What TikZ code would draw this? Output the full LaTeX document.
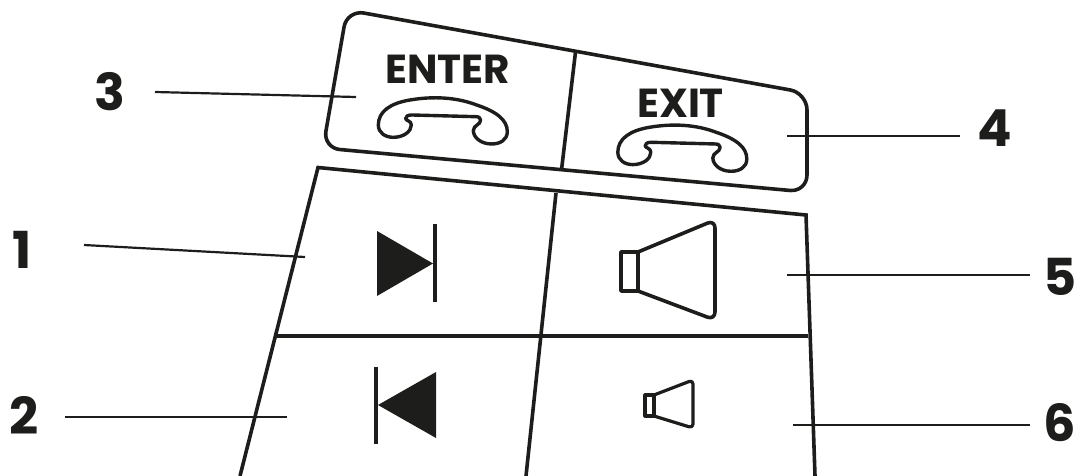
\documentclass[tikz,border=0pt]{standalone}
\usepackage{fontspec}
\setmainfont{Poppins}[BoldFont={* Bold}]
\definecolor{ink}{HTML}{1D1D1B}
\tikzset{
  x=1pt,y=-1pt,
  panel/.style={draw=ink,line width=3.6pt,line join=round},
  gridline/.style={draw=ink,line width=3.6pt},
  leader/.style={draw=ink,line width=2.2pt},
  num/.style={text=ink,font=\fontsize{51}{51}\selectfont\bfseries,inner sep=0pt,anchor=center},
  captext/.style={text=ink,font=\fontsize{40.5}{40.5}\selectfont\bfseries,inner sep=0pt,anchor=center},
  fillglyph/.style={fill=ink,draw=none},
  glyphline/.style={draw=ink,line width=3.2pt},
}
\newcommand{\handset}[2]{%
  \draw[panel,line width=3.4pt,shift={(#1,#2)},x=0.3333pt,y=-0.3333pt,line join=round]
    (205,375) .. controls (205,335) and (240,310) .. (300,300)
    .. controls (370,288) and (440,292) .. (500,315)
    .. controls (560,335) and (592,360) .. (592,395)
    .. controls (592,420) and (570,432) .. (545,432)
    .. controls (510,432) and (490,410) .. (490,392)
    .. controls (490,375) and (512,375) .. (512,360)
    .. controls (512,352) and (505,350) .. (495,350)
    -- (305,345)
    .. controls (292,345) and (287,350) .. (287,356)
    .. controls (287,362) and (304,362) .. (304,375)
    .. controls (304,395) and (280,412) .. (250,412)
    .. controls (225,412) and (205,398) .. (205,375) -- cycle;
}
\begin{document}
\begin{tikzpicture}
\useasboundingbox (0,0) rectangle (1078,476);
% upper panel
\draw[panel,rounded corners=17pt] (347,10) -- (807,93) -- (807,192) -- (323,148) -- cycle;
\coordinate (dt) at (575.5,52);
\coordinate (db) at (561.5,170);
\draw[gridline] (dt) -- (db);
\node[captext] (enter) at (447.5,69) {ENTER};
\node[captext] (exit) at (680.5,103) {EXIT};
\handset{310}{0}
\handset{549.5}{27.3}
% lower panel
\coordinate (ltl) at (318,167.5);
\coordinate (ltr) at (806,215);
\coordinate (lbl) at (240,476);
\coordinate (lbr) at (815,476);
\draw[panel,line join=miter] (lbl) -- (ltl) -- (ltr) -- (lbr);
\coordinate (mt) at (556,193);
\coordinate (mb) at (526,476);
\draw[gridline] (mt) -- (mb);
\coordinate (hl) at (276,336);
\coordinate (hr) at (808,336);
\draw[gridline] (hl) -- (hr);
% skip glyphs
\draw[fillglyph] (377,231) -- (433,263.5) -- (377,296) -- cycle;
\coordinate (ba) at (435,224);
\coordinate (bb) at (435,302);
\draw[glyphline] (ba) -- (bb);
\draw[fillglyph] (436,372) -- (378,405) -- (436,438) -- cycle;
\coordinate (bc) at (376,367);
\coordinate (bd) at (376,444);
\draw[glyphline] (bc) -- (bd);
% speakers
\draw[panel] (621,252) rectangle (638,291);
\draw[panel,rounded corners=8pt] (638,252) -- (715,220) -- (715,320) -- (638,291);
\draw[panel,line width=3.2pt] (645,395) rectangle (654,416);
\draw[panel,line width=3.2pt,rounded corners=4pt] (654,395) -- (693,380) -- (693,428) -- (654,416);
% labels
\node[num] (n3) at (110,92) {3};
\node[num] (n1) at (22,250) {1};
\node[num] (n2) at (24,415) {2};
\node[num] (n4) at (995,128) {4};
\node[num] (n5) at (1060,277) {5};
\node[num] (n6) at (1060,423) {6};
\coordinate (a3) at (155,92); \coordinate (b3) at (356,97);
\coordinate (a1) at (84,245); \coordinate (b1) at (305,257);
\coordinate (a2) at (65,417); \coordinate (b2) at (287,417);
\coordinate (a4) at (960,136); \coordinate (b4) at (787,136);
\coordinate (a5) at (1030,275); \coordinate (b5) at (787,275);
\coordinate (a6) at (1030,425); \coordinate (b6) at (793,425);
\foreach \k in {1,...,6} {\draw[leader] (a\k) -- (b\k);}
\end{tikzpicture}
\end{document}
